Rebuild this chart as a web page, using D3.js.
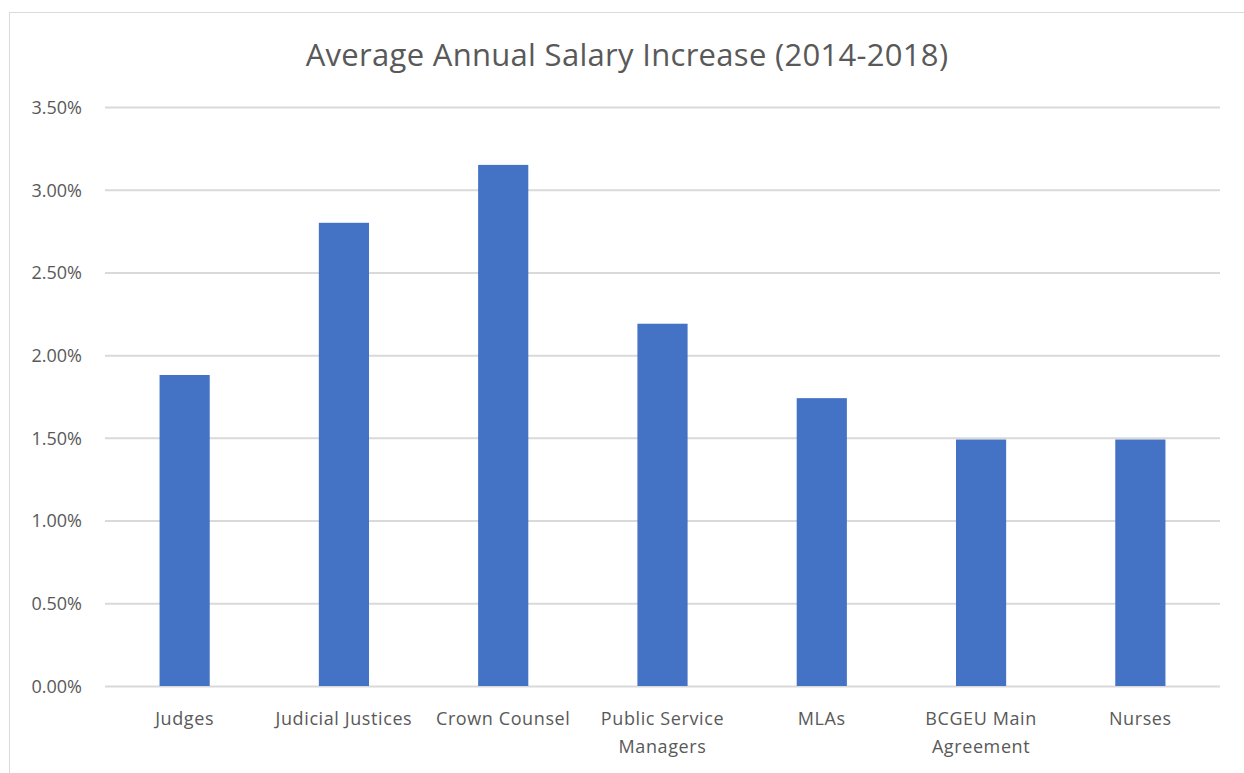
<!DOCTYPE html>
<html>
<head>
<meta charset="utf-8">
<script src="https://cdn.jsdelivr.net/npm/d3@7"></script>
<style>
  body { margin: 0; background: #fff; }
  svg { display: block; font-family: "Open Sans", "Noto Sans", sans-serif; }
</style>
</head>
<body>
<svg id="chart" width="1244" height="773"></svg>
<script>
// chart data
var categories = ["Judges", "Judicial Justices", "Crown Counsel", "Public Service Managers",
                  "MLAs", "BCGEU Main Agreement", "Nurses"];
var labelLines = [["Judges"], ["Judicial Justices"], ["Crown Counsel"], ["Public Service", "Managers"],
                  ["MLAs"], ["BCGEU Main", "Agreement"], ["Nurses"]];
var values = [0.0188, 0.0280, 0.0315, 0.0219, 0.0174, 0.0149, 0.0149];
var yTicks = [0, 0.005, 0.01, 0.015, 0.02, 0.025, 0.03, 0.035];
var title = "Average Annual Salary Increase (2014-2018)";

var svg = d3.select("#chart");
var plotLeft = 105, plotRight = 1220, plotTop = 107, plotBottom = 686;
var font = '"Open Sans", "Noto Sans", sans-serif';

// outer frame
svg.append("rect")
    .attr("x", 9.5).attr("y", 12.5)
    .attr("width", 1300).attr("height", 800)
    .attr("fill", "none").attr("stroke", "#d9d9d9");

var x = d3.scaleBand()
    .domain(categories)
    .range([plotLeft, plotRight])
    .paddingInner(0.685)
    .paddingOuter(0.3425);

var y = d3.scaleLinear()
    .domain([0, 0.035])
    .range([plotBottom, plotTop]);

// gridlines + y labels
var yAxis = svg.append("g")
    .attr("transform", "translate(" + plotLeft + ",0)")
    .call(d3.axisLeft(y).tickValues(yTicks).tickFormat(d3.format(".2%"))
          .tickSize(-(plotRight - plotLeft)).tickPadding(23));
yAxis.attr("font-family", font).attr("font-size", 18);
yAxis.select(".domain").remove();
yAxis.selectAll("line").attr("stroke", "#d9d9d9").attr("stroke-width", 2);
yAxis.selectAll("text")
    .attr("fill", "#595959")
    .attr("dy", "0.35em");

// bars
svg.append("g").selectAll("rect")
    .data(values)
    .enter()
    .append("rect")
    .attr("x", function (d, i) { return x(categories[i]); })
    .attr("y", function (d) { return y(d); })
    .attr("width", x.bandwidth())
    .attr("height", function (d) { return y(0) - y(d); })
    .attr("fill", "#4472c4");

// category labels
var labels = svg.append("g").selectAll("text")
    .data(labelLines)
    .enter()
    .append("text")
    .attr("text-anchor", "middle")
    .attr("fill", "#595959")
    .style("font-size", "18px")
    .style("letter-spacing", "0.6px")
    .attr("x", function (d, i) { return x(categories[i]) + x.bandwidth() / 2; })
    .attr("y", 725);
labels.selectAll("tspan")
    .data(function (d) { return d; })
    .enter()
    .append("tspan")
    .attr("x", function () { return d3.select(this.parentNode).attr("x"); })
    .attr("dy", function (d, i) { return i === 0 ? 0 : 28; })
    .text(function (d) { return d; });

// title
svg.append("text")
    .attr("x", 627).attr("y", 66)
    .attr("text-anchor", "middle")
    .attr("fill", "#595959")
    .style("font-size", "31px")
    .style("letter-spacing", "0.3px")
    .text(title);
</script>
</body>
</html>
